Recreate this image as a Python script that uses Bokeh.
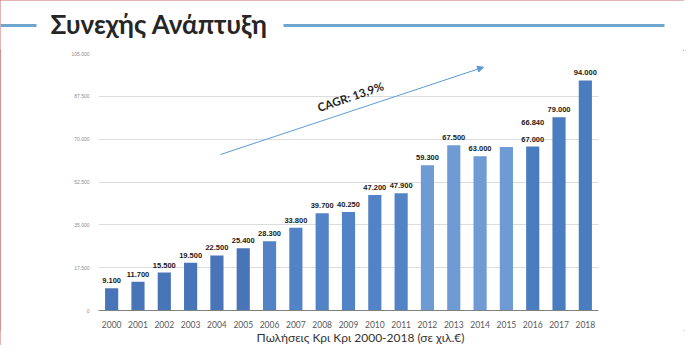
from bokeh.plotting import figure
from bokeh.layouts import column
from bokeh.models import (FactorRange, Range1d, FixedTicker, LabelSet, Label, Arrow,
                          NormalHead, ColumnDataSource)
from bokeh.core.properties import value
from bokeh.embed import file_html
from bokeh.resources import INLINE

# ---------------- data ----------------
years = ["2000", "2001", "2002", "2003", "2004", "2005", "2006", "2007", "2008", "2009",
         "2010", "2011", "2012", "2013", "2014", "2015", "2016", "2017", "2018"]
sales = [9100, 11700, 15500, 19500, 22500, 25400, 28300, 33800, 39700, 40250,
         47200, 47900, 59300, 67500, 63000, 66840, 67000, 79000, 94000]
sales_labels = ["9.100", "11.700", "15.500", "19.500", "22.500", "25.400", "28.300", "33.800",
                "39.700", "40.250", "47.200", "47.900", "59.300", "67.500", "63.000", "",
                "67.000", "79.000", "94.000"]
bar_colors = ["#4874b8", "#4874b8", "#4874b8", "#4874b8", "#4874b8", "#4874b8",
              "#5283c6", "#5283c6", "#5283c6", "#5283c6", "#5283c6", "#5283c6",
              "#6f9bd4", "#6f9bd4", "#6f9bd4", "#6f9bd4",
              "#4a7cc0", "#4a7cc0", "#4a7cc0"]
extra_label_years = ["2016"]
extra_label_values = [67000]
extra_label_texts = ["66.840"]
y_ticks = [0, 17500, 35000, 52500, 70000, 87500, 105000]
y_tick_labels = ["0", "17.500", "35.000", "52.500", "70.000", "87.500", "105.000"]
title_text = "Συνεχής Ανάπτυξη"
caption_text = "Πωλήσεις Κρι Κρι 2000-2018 (σε χιλ.€)"
cagr_text = "CAGR: 13,9%"

# ---------------- layout (page pixels) ----------------
W, H = 684, 345
HEAD_H = 50                # header strip
FOOT_H = 15                # caption strip
CHART_H = H - HEAD_H - FOOT_H
FRAME_LEFT, FRAME_RIGHT = 98, 598
FRAME_TOP, FRAME_BOTTOM = 53, 315
Y_MAX = 105000
FRAME_W = FRAME_RIGHT - FRAME_LEFT
FRAME_H = FRAME_BOTTOM - FRAME_TOP

def fx(px):
    """page pixel x -> synthetic categorical x"""
    return (px - FRAME_LEFT) / (FRAME_W / len(years))

def fy(py):
    """page pixel y -> data y"""
    return (FRAME_BOTTOM - py) * Y_MAX / FRAME_H

# ---------------- header ----------------
head = figure(width=W, height=HEAD_H, x_range=Range1d(0, W), y_range=Range1d(HEAD_H, 0),
              x_axis_type=None, y_axis_type=None, output_backend="svg",
              toolbar_location=None, min_border=0, frame_align=False)
head.outline_line_color = None
head.text(x=[50], y=[23.5], text=[title_text], text_baseline="alphabetic", text_align="left",
          text_font=value("Lato"), text_font_style="bold", text_font_size="26px",
          text_color="#262626")
head.segment(x0=[0, 283], y0=[25, 25], x1=[36, 664], y1=[25, 25],
             line_color="#6ea6cf", line_width=3)

# ---------------- chart ----------------
p = figure(x_range=FactorRange(*years, range_padding=0), y_range=Range1d(0, Y_MAX),
           width=W, height=CHART_H, output_backend="svg", toolbar_location=None,
           min_border_left=FRAME_LEFT, min_border_right=W - FRAME_RIGHT,
           min_border_top=FRAME_TOP - HEAD_H,
           min_border_bottom=(H - FOOT_H) - FRAME_BOTTOM, frame_align=False)
p.outline_line_color = None

src = ColumnDataSource(dict(x=years, top=sales, lab=sales_labels, color=bar_colors))
p.vbar(x="x", top="top", width=0.5, source=src, fill_color="color", line_color=None)

p.add_layout(LabelSet(x="x", y="top", text="lab", source=src, y_offset=5,
                      text_align="center", text_baseline="alphabetic",
                      text_font=value("Liberation Sans"), text_font_style="bold",
                      text_font_size="7.5px", text_color="#1a1a1a"))
src2 = ColumnDataSource(dict(x=extra_label_years, y=extra_label_values, t=extra_label_texts))
p.add_layout(LabelSet(x="x", y="y", text="t", source=src2, y_offset=22,
                      text_align="center", text_baseline="alphabetic",
                      text_font=value("Liberation Sans"), text_font_style="bold",
                      text_font_size="7.5px", text_color="#1a1a1a"))

p.xgrid.grid_line_color = None
p.ygrid.grid_line_color = "#dcdcdc"
p.ygrid.grid_line_width = 1
p.yaxis.ticker = FixedTicker(ticks=y_ticks)
p.yaxis.major_label_overrides = {t: l for t, l in zip(y_ticks, y_tick_labels)}
p.yaxis.axis_line_color = None
p.yaxis.major_tick_line_color = None
p.yaxis.minor_tick_line_color = None
p.yaxis.major_label_standoff = 3
p.yaxis.major_label_text_font_size = "5px"
p.yaxis.major_label_text_color = "#8c8c8c"
p.yaxis.major_label_text_font = "Liberation Sans"

p.xaxis.axis_line_color = "#7f7f7f"
p.xaxis.axis_line_width = 1.2
p.xaxis.major_tick_line_color = None
p.xaxis.minor_tick_line_color = None
p.xaxis.major_label_standoff = 4
p.xaxis.major_label_text_font_size = "8.5px"
p.xaxis.major_label_text_color = "#595959"
p.xaxis.major_label_text_font = "Lato"

p.add_layout(Arrow(x_start=fx(220), y_start=fy(156), x_end=fx(483), y_end=fy(67),
                   line_color="#5b9bd5", line_width=1,
                   end=NormalHead(size=6, fill_color="#5b9bd5", line_color="#5b9bd5")))
p.add_layout(Label(x=fx(350), y=fy(97), text=cagr_text, angle=0.33,
                   text_align="center", text_baseline="middle",
                   text_font="Lato", text_font_style="bold",
                   text_font_size="11.5px", text_color="#1f1f1f"))

# ---------------- caption ----------------
foot = figure(width=W, height=FOOT_H, x_range=Range1d(0, W), y_range=Range1d(FOOT_H, 0),
              x_axis_type=None, y_axis_type=None, output_backend="svg",
              toolbar_location=None, min_border=0, frame_align=False)
foot.outline_line_color = None
foot.text(x=[360], y=[6.5], text=[caption_text], text_baseline="alphabetic", text_align="center",
          text_font=value("Lato"), text_font_size="12px", text_color="#333333")

layout = column(head, p, foot, spacing=0,
                styles={"outline": "1px solid #c96a6e", "outline-offset": "-1px"})

open("out.html", "w").write(file_html(layout, INLINE))
